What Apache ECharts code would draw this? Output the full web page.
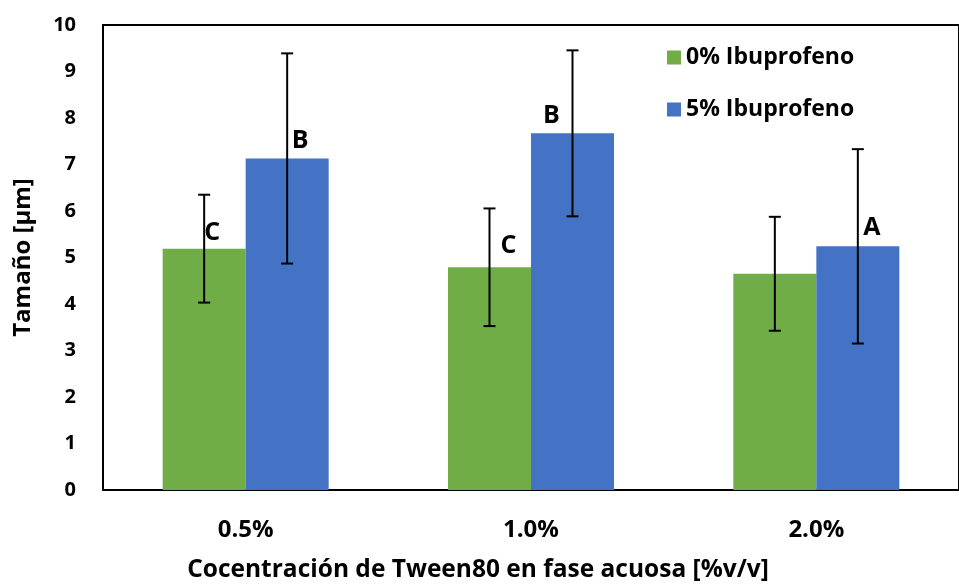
<!DOCTYPE html>
<html>
<head>
<meta charset="utf-8">
<script src="https://cdn.jsdelivr.net/npm/echarts@6/dist/echarts.min.js"></script>
<style>
  html, body { margin: 0; padding: 0; background: #fff; }
  #chart { width: 959px; height: 588px; }
</style>
</head>
<body>
<div id="chart"></div>
<script>
// data
const categories = ['0.5%', '1.0%', '2.0%'];
const seriesNames = ['0% Ibuprofeno', '5% Ibuprofeno'];
const sizeNoIbu = [5.19, 4.79, 4.65];
const errNoIbu = [1.16, 1.265, 1.225];
const sizeIbu = [7.13, 7.67, 5.24];
const errIbu = [2.26, 1.785, 2.09];
const lettersNoIbu = ['C', 'C', ''];
const lettersIbu = ['B', 'B', 'A'];
const yTicks = [0, 10, 1]; // min, max, interval

// where Excel put each letter label, relative to the top of its bar
const shiftNoIbu = [[8, -3], [19, -9], [0, 0]];
const shiftIbu = [[13, -5], [-21, -5], [14, -6]];

const FONT = '"Open Sans", sans-serif';
const BAR_W = 83;
const colors = ['#70AD47', '#4472C4'];

const chart = echarts.init(document.getElementById('chart'));

const textStyle = size => ({
    fontFamily: FONT,
    fontWeight: 'bold',
    fontSize: size,
    color: '#000',
});

const barData = (vals, letters, shifts) => vals.map((v, i) => ({
    value: v,
    label: {
        show: letters[i] !== '',
        formatter: letters[i],
        position: 'top',
        distance: 0,
        offset: shifts[i],
        ...textStyle(25),
    },
}));

// error bars drawn through the axis scales
const errorData = [];
[[sizeNoIbu, errNoIbu], [sizeIbu, errIbu]].forEach(([vals, errs], s) => {
    vals.forEach((v, i) => errorData.push([i, v - errs[i], v + errs[i], s]));
});

const renderError = (params, api) => {
    const cat = api.value(0);
    const side = api.value(3) === 0 ? -1 : 1;
    const lo = api.coord([cat, api.value(1)]);
    const hi = api.coord([cat, api.value(2)]);
    const x = lo[0] + side * BAR_W / 2;
    const cap = 6;
    const style = { stroke: '#000', lineWidth: 2 };
    return {
        type: 'group',
        children: [
            { type: 'line', shape: { x1: x, y1: hi[1], x2: x, y2: lo[1] }, style },
            { type: 'line', shape: { x1: x - cap, y1: hi[1], x2: x + cap, y2: hi[1] }, style },
            { type: 'line', shape: { x1: x - cap, y1: lo[1], x2: x + cap, y2: lo[1] }, style },
        ],
    };
};

const option = {
    animation: false,
    grid: {
        left: 103,
        right: -12,
        top: 25,
        bottom: 88,
        show: true,
        borderColor: '#000',
        borderWidth: 2,
    },
    legend: {
        orient: 'vertical',
        left: 662,
        top: 41,
        itemWidth: 14,
        itemHeight: 14,
        itemGap: 29,
        icon: 'rect',
        data: seriesNames,
        textStyle: textStyle(23),
    },
    xAxis: {
        type: 'category',
        data: categories,
        boundaryGap: true,
        axisLine: { lineStyle: { color: '#000', width: 2 } },
        axisTick: { show: false },
        axisLabel: { margin: 28, ...textStyle(24) },
        name: 'Cocentración de Tween80 en fase acuosa [%v/v]',
        nameLocation: 'middle',
        nameGap: 68,
        // the title sits left of the plot centre in the original
        nameTextStyle: { ...textStyle(24.5), padding: [0, 106, 0, 0] },
    },
    yAxis: {
        type: 'value',
        min: yTicks[0],
        max: yTicks[1],
        interval: yTicks[2],
        axisLine: { show: true, lineStyle: { color: '#000', width: 2 } },
        axisTick: { show: false },
        splitLine: { show: false },
        axisLabel: { margin: 27, ...textStyle(20) },
        name: 'Tamaño [μm]',
        nameLocation: 'middle',
        nameGap: 68,
        nameTextStyle: textStyle(24),
    },
    series: [
        {
            name: seriesNames[0],
            type: 'bar',
            barWidth: BAR_W,
            barGap: '0%',
            itemStyle: { color: colors[0] },
            data: barData(sizeNoIbu, lettersNoIbu, shiftNoIbu),
        },
        {
            name: seriesNames[1],
            type: 'bar',
            barWidth: BAR_W,
            barGap: '0%',
            itemStyle: { color: colors[1] },
            data: barData(sizeIbu, lettersIbu, shiftIbu),
        },
        {
            type: 'custom',
            renderItem: renderError,
            data: errorData,
            z: 5,
            silent: true,
        },
    ],
};

chart.setOption(option);
</script>
</body>
</html>
